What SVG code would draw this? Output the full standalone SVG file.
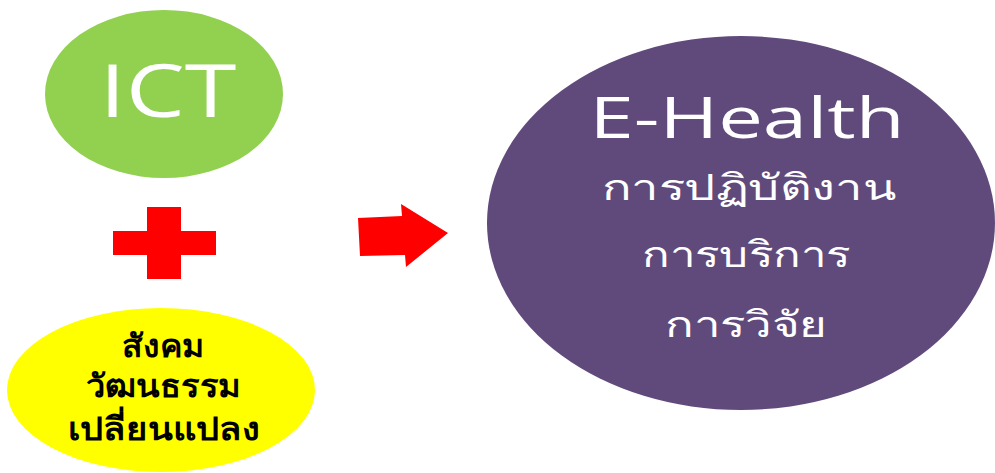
<svg xmlns="http://www.w3.org/2000/svg" width="995" height="473" viewBox="0 0 995 473">
<style>
.w{fill:#fff;font-family:"Open Sans","Noto Sans",sans-serif;text-anchor:middle}
.t{fill:#fff;font-family:"Noto Sans",sans-serif;font-weight:300;text-anchor:middle;font-size:36px}
.k{fill:#000;font-family:"Noto Sans","DejaVu Sans",sans-serif;font-weight:bold;text-anchor:middle;font-size:32px}
.r{fill:#ff0000}
</style>
<rect width="995" height="473" fill="#fff"/>
<g id="ict">
<ellipse cx="164" cy="94" rx="119" ry="84" fill="#92d050"/>
<text class="w" x="168" y="117" font-size="73" textLength="137" lengthAdjust="spacingAndGlyphs">ICT</text>
</g>
<g id="plus">
<path class="r" d="M147 207H181V231H216V255H181V279H147V255H113V231H147Z"/>
</g>
<g id="society">
<ellipse cx="161" cy="390" rx="154" ry="82" fill="#ffff00"/>
<text class="k" x="163" y="357" textLength="82" lengthAdjust="spacingAndGlyphs">สังคม</text>
<text class="k" x="163" y="397" textLength="155" lengthAdjust="spacingAndGlyphs">วัฒนธรรม</text>
<text class="k" x="164" y="440" textLength="192" lengthAdjust="spacingAndGlyphs">เปลี่ยนแปลง</text>
</g>
<g id="connectors">
<path class="r" d="M358 218L402 216L401 204L448 233L406 267L405 255L360 256Z"/>
</g>
<g id="ehealth">
<ellipse cx="741" cy="223" rx="254" ry="187" fill="#604a7b"/>
<text class="w" x="747" y="138" font-size="56" textLength="315" lengthAdjust="spacingAndGlyphs">E-Health</text>
<text class="t" x="749" y="200" textLength="295" lengthAdjust="spacingAndGlyphs">การปฏิบัติงาน</text>
<text class="t" x="746" y="267" textLength="208" lengthAdjust="spacingAndGlyphs">การบริการ</text>
<text class="t" x="746" y="337" textLength="162" lengthAdjust="spacingAndGlyphs">การวิจัย</text>
</g>
</svg>
